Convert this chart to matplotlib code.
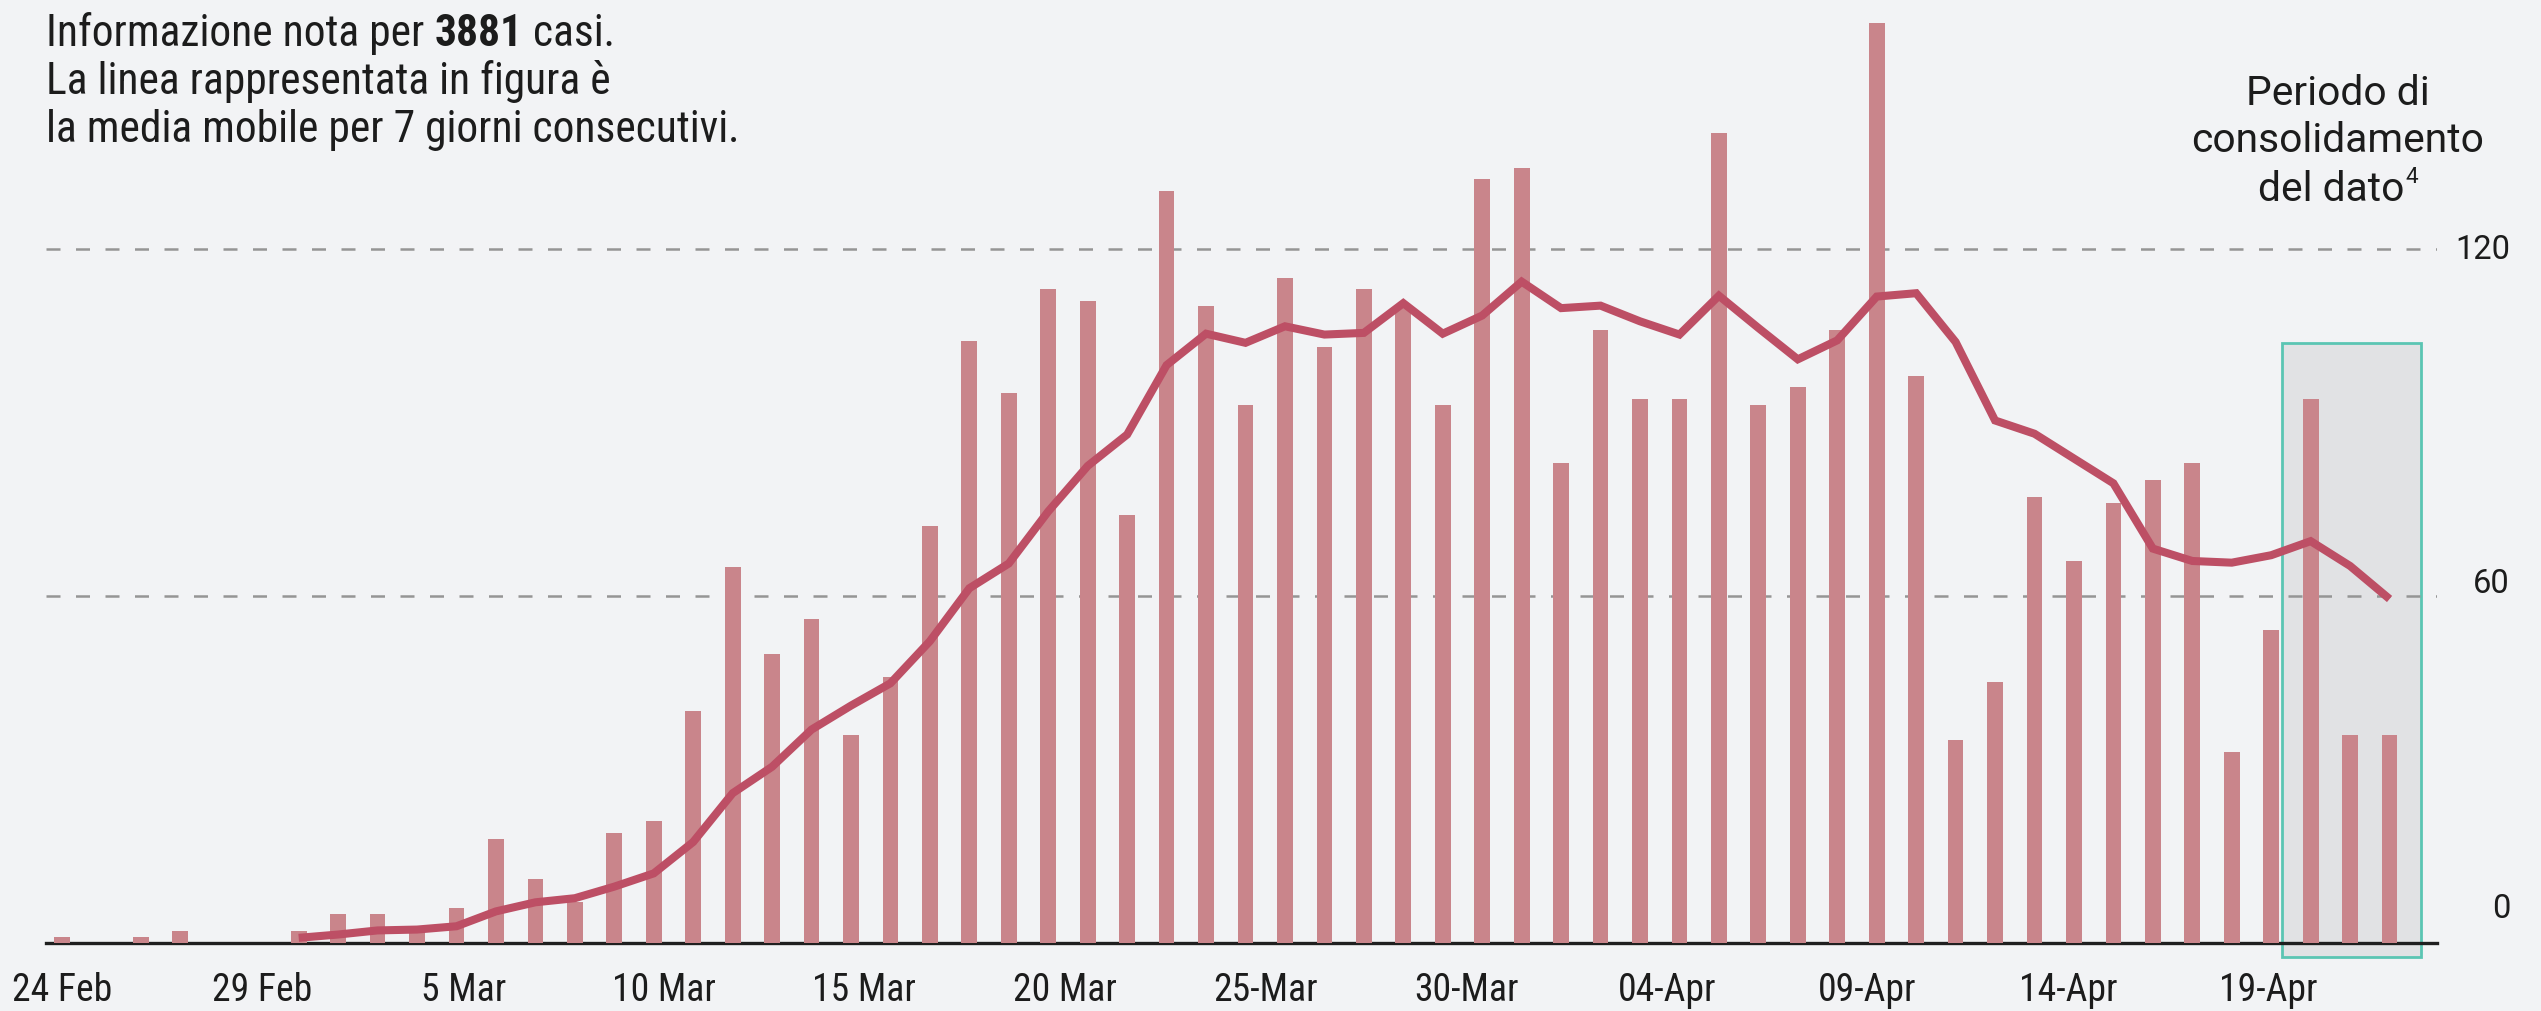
import numpy as np
import matplotlib
matplotlib.use("Agg")
import matplotlib.pyplot as plt
from matplotlib.patches import Rectangle
from matplotlib import font_manager as fm
from matplotlib.transforms import blended_transform_factory

# ---------------- data ----------------
cases = [1, 0, 1, 2, 0, 0, 2, 5, 5, 2, 6, 18, 11, 7, 19, 21, 40, 65, 50, 56,
         36, 46, 72, 104, 95, 113, 111, 74, 130, 110, 93, 115, 103, 113, 110, 93,
         132, 134, 83, 106, 94, 94, 140, 93, 96, 106, 159, 98, 35, 45, 77, 66,
         76, 80, 83, 33, 54, 94, 36, 36]
moving_avg_start = 6
moving_avg = [0.86, 1.43, 2.14, 2.29, 2.86, 5.43, 7.0, 7.71, 9.71, 12.0, 17.43,
              25.86, 30.43, 36.86, 41.0, 44.86, 52.14, 61.29, 65.57, 74.57, 82.43,
              87.86, 99.86, 105.29, 103.71, 106.57, 105.14, 105.43, 110.57, 105.29,
              108.43, 114.29, 109.71, 110.14, 107.43, 105.14, 111.86, 106.29, 100.86,
              104.14, 111.71, 112.29, 103.86, 90.29, 88.0, 83.71, 79.43, 68.14, 66.0,
              65.71, 67.0, 69.43, 65.14, 59.43]
tick_labels = ["24 Feb", "29 Feb", "5 Mar", "10 Mar", "15 Mar", "20 Mar",
               "25-Mar", "30-Mar", "04-Apr", "09-Apr", "14-Apr", "19-Apr"]
y_ticks = [0, 60, 120]
y_gridlines = [60, 120]
consolidation_days = [57, 58, 59]   # bar indices inside the shaded box

# ---------------- style ----------------
BG = "#f2f3f5"
BAR = "#c9858b"
LINE = "#bd4f65"
BOX_FACE = "#e1e2e4"
BOX_EDGE = "#5bc5b3"
TXT = "#1c1c1c"
GRID = "#959595"

names = {f.name for f in fm.fontManager.ttflist}
NARROW = next((n for n in ["Liberation Sans Narrow", "Roboto Condensed",
                           "Open Sans Condensed", "Roboto"] if n in names), "DejaVu Sans")
ROUND = next((n for n in ["Roboto", "Inter", "Open Sans"] if n in names), "DejaVu Sans")

W_PX, H_PX = 2541, 1012
fig = plt.figure(figsize=(W_PX / 100, H_PX / 100), dpi=100)
fig.patch.set_facecolor(BG)

# axes geometry (pixels): x from 46 to 2437, baseline at 943.8, 5.785 px per unit
px_per_unit = 5.785
ytop = 162
base_y = 943.8
ax_left, ax_right = 46, 2437
ax = fig.add_axes([ax_left / W_PX, 1 - base_y / H_PX,
                   (ax_right - ax_left) / W_PX, ytop * px_per_unit / H_PX])
ax.set_facecolor(BG)
x = np.arange(len(cases))
bar_step = 39.45
ax.set_xlim((ax_left - 62) / bar_step, (ax_right - 62) / bar_step)
ax.set_ylim(0, ytop)
for s in ax.spines.values():
    s.set_visible(False)
ax.set_xticks([])
ax.set_yticks([])

# consolidation box
x0 = consolidation_days[0] - 0.73
x1 = consolidation_days[-1] + 0.79
box = Rectangle((x0, -2.4), x1 - x0, 106.1, facecolor=BOX_FACE, edgecolor=BOX_EDGE,
                linewidth=2.0, clip_on=False, zorder=0.5)
ax.add_patch(box)

# gridlines
for g in y_gridlines:
    ax.axhline(g, color=GRID, lw=1.8, linestyle=(0, (5.6, 6.2)), zorder=1)

# baseline
ax.axhline(0, color="#1f1f1f", lw=2.4, zorder=1.5, clip_on=False)

# bars
ax.bar(x, cases, width=0.4, color=BAR, zorder=2)

# moving average line
xm = np.arange(moving_avg_start, moving_avg_start + len(moving_avg))
ax.plot(xm, moving_avg, color=LINE, lw=5.8, solid_joinstyle="miter",
        solid_capstyle="butt", zorder=3)

renderer = fig.canvas.get_renderer()

def fit_width(t, target):
    w = t.get_window_extent(renderer=renderer).width
    t.set_fontsize(t.get_fontsize() * target / w)

# x tick labels (evenly spaced label layer)
label_step = 5.085
tr_x = blended_transform_factory(ax.transData, fig.transFigure)
xt = []
for i, lab in enumerate(tick_labels):
    t = ax.text(i * label_step, 1 - 991 / H_PX, lab, transform=tr_x, ha="center",
                va="center", fontsize=27, family=[NARROW, "DejaVu Sans"], color=TXT)
    xt.append(t)
fit_width(xt[0], 100)
fs = min(xt[0].get_fontsize(), 30)
for t in xt:
    t.set_fontsize(fs)

# y tick labels on the right
tr_y = blended_transform_factory(fig.transFigure, ax.transData)
y_label_offset = [6.0, 2.2, 0.0]
yt = []
for v, off in zip(y_ticks, y_label_offset):
    t = ax.text(2510 / W_PX, v + off, str(v), transform=tr_y, ha="right", va="center",
                fontsize=23.5, family=[ROUND, "DejaVu Sans"], color=TXT, clip_on=False)
    yt.append(t)
fit_width(yt[2], 55)
for t in yt:
    t.set_fontsize(yt[2].get_fontsize())

# right annotation
ann_cx = 2338
ann_base = [105, 152, 201]
a1 = fig.text(ann_cx / W_PX, 1 - ann_base[0] / H_PX, "Periodo di", ha="center",
              va="baseline", fontsize=29, family=[ROUND, "DejaVu Sans"], color=TXT)
a2 = fig.text(ann_cx / W_PX, 1 - ann_base[1] / H_PX, "consolidamento", ha="center",
              va="baseline", fontsize=29, family=[ROUND, "DejaVu Sans"], color=TXT)
fit_width(a2, 293)
afs = a2.get_fontsize()
a1.set_fontsize(afs)
a3 = fig.text(0, 1 - ann_base[2] / H_PX, "del dato", ha="left",
              va="baseline", fontsize=afs, family=[ROUND, "DejaVu Sans"], color=TXT)
sup = fig.text(0, 1 - (ann_base[2] - 0.45 * afs * 100 / 72) / H_PX, "4", ha="left",
               va="baseline", fontsize=afs * 0.55, family=[ROUND, "DejaVu Sans"], color=TXT)
wa = a3.get_window_extent(renderer=renderer).width
ws = sup.get_window_extent(renderer=renderer).width
start = ann_cx - (wa + ws + 2) / 2
a3.set_x(start / W_PX)
sup.set_x((start + wa + 2) / W_PX)

# top-left note
note_x = 46 / W_PX
note_base = [46, 94, 142]
l3 = fig.text(note_x, 1 - note_base[2] / H_PX,
              "la media mobile per 7 giorni consecutivi.", ha="left", va="baseline",
              fontsize=30, family=[NARROW, "DejaVu Sans"], color=TXT)
fit_width(l3, 694)
nfs = l3.get_fontsize()
l2 = fig.text(note_x, 1 - note_base[1] / H_PX, "La linea rappresentata in figura è",
              ha="left", va="baseline", fontsize=nfs, family=[NARROW, "DejaVu Sans"], color=TXT)
p1 = fig.text(note_x, 1 - note_base[0] / H_PX, "Informazione nota per",
              ha="left", va="baseline", fontsize=nfs, family=[NARROW, "DejaVu Sans"], color=TXT)
space_px = nfs * 100 / 72 * 0.24
w1 = p1.get_window_extent(renderer=renderer).x1
p2 = fig.text((w1 + space_px) / W_PX, 1 - note_base[0] / H_PX, "3881",
              ha="left", va="baseline", fontsize=nfs, fontweight="bold",
              family=[NARROW, "DejaVu Sans"], color=TXT)
w2 = p2.get_window_extent(renderer=renderer).x1
fig.text((w2 + space_px) / W_PX, 1 - note_base[0] / H_PX, "casi.",
         ha="left", va="baseline", fontsize=nfs, family=[NARROW, "DejaVu Sans"], color=TXT)

fig.savefig("out.png", dpi=100, facecolor=BG)
